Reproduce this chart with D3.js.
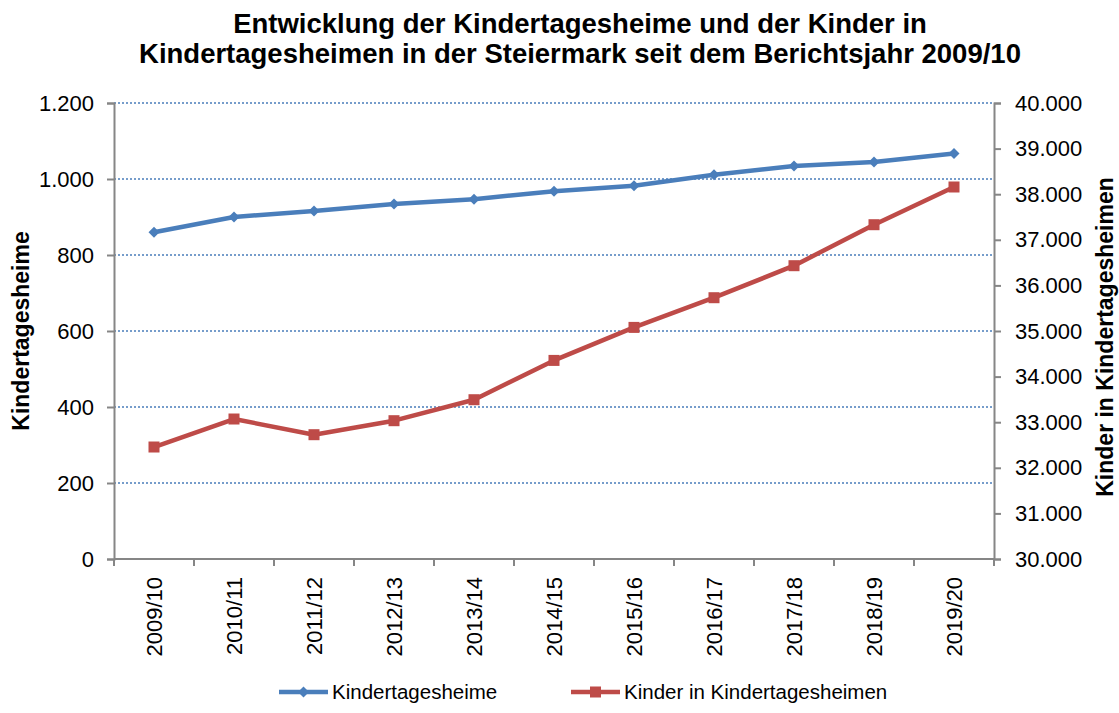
<!DOCTYPE html>
<html><head><meta charset="utf-8">
<script src="https://cdn.jsdelivr.net/npm/d3@7"></script>
<style>body{margin:0;background:#fff}svg{display:block;font-family:"Liberation Sans",Arial,sans-serif}</style>
</head><body><svg id="c" width="1119" height="713"></svg>
<script>
const categories = ["2009/10","2010/11","2011/12","2012/13","2013/14","2014/15","2015/16","2016/17","2017/18","2018/19","2019/20"];
const heime = [860, 900, 916, 934, 947, 968, 982, 1011, 1034, 1045, 1067];
const kinder = [32456, 33070, 32726, 33033, 33493, 34355, 35079, 35730, 36432, 37331, 38158];
const leftTicks = [0, 200, 400, 600, 800, 1000, 1200];
const rightTicks = [30000, 31000, 32000, 33000, 34000, 35000, 36000, 37000, 38000, 39000, 40000];
const seriesNames = ["Kindertagesheime", "Kinder in Kindertagesheimen"];

const svg = d3.select("#c");
const L = 114, R = 994, T = 103, B = 559;
const blue = "#4a7ebb", red = "#be4b48", axisCol = "#868686";
const de = v => d3.format(",")(v).replace(/,/g, ".");

const x = d3.scaleBand().domain(categories).range([L, R]).padding(0);
const yL = d3.scaleLinear().domain([0, 1200]).range([B, T]);
const yR = d3.scaleLinear().domain([30000, 40000]).range([B, T]);

// title
const title = svg.append("text").attr("text-anchor", "middle").attr("font-weight", "bold").attr("font-size", 27.5).attr("fill", "#000");
title.append("tspan").attr("x", 580).attr("y", 33).text("Entwicklung der Kindertagesheime und der Kinder in");
title.append("tspan").attr("x", 580).attr("y", 63).text("Kindertagesheimen in der Steiermark seit dem Berichtsjahr 2009/10");

// gridlines
svg.append("g").selectAll("line").data(leftTicks.filter(d => d > 0)).join("line")
  .attr("x1", L).attr("x2", R).attr("y1", d => yL(d)).attr("y2", d => yL(d))
  .attr("stroke", blue).attr("stroke-width", 1.5).attr("stroke-dasharray", "2,2");

// axes
const gL = svg.append("g").attr("transform", `translate(${L},0)`)
  .call(d3.axisLeft(yL).tickValues(leftTicks).tickFormat(de).tickSizeOuter(0).tickSize(7).tickPadding(13));
const gR = svg.append("g").attr("transform", `translate(${R},0)`)
  .call(d3.axisRight(yR).tickValues(rightTicks).tickFormat(de).tickSizeOuter(0).tickSize(7).tickPadding(14));
const gX = svg.append("g").attr("transform", `translate(0,${B})`)
  .call(d3.axisBottom(x).tickSize(0).tickSizeOuter(0));
[gL, gR, gX].forEach(g => {
  g.select(".domain").attr("stroke", axisCol).attr("stroke-width", 2);
  g.selectAll(".tick line").attr("stroke", axisCol).attr("stroke-width", 2);
  g.selectAll("text").attr("font-size", 22).attr("fill", "#000").attr("font-family", "Liberation Sans, Arial, sans-serif");
});
gX.select(".domain").attr("d", `M${L},0H${R}`);
// category boundary ticks
gX.append("g").selectAll("line").data(categories.concat(["__end"])).join("line")
  .attr("x1", (d, i) => i < categories.length ? x(d) : R)
  .attr("x2", (d, i) => i < categories.length ? x(d) : R)
  .attr("y1", 0).attr("y2", 7).attr("stroke", axisCol).attr("stroke-width", 2);
gX.selectAll(".tick text").attr("transform", "rotate(-90)").attr("text-anchor", "end")
  .attr("x", -18).attr("y", 0).attr("dy", "0.35em");

// axis titles
svg.append("text").attr("transform", `translate(29,${331}) rotate(-90)`).attr("text-anchor", "middle")
  .attr("font-weight", "bold").attr("font-size", 23).text("Kindertagesheime");
svg.append("text").attr("transform", `translate(1113,${337}) rotate(-90)`).attr("text-anchor", "middle")
  .attr("font-weight", "bold").attr("font-size", 23).text("Kinder in Kindertagesheimen");

const cx = d => x(d) + x.bandwidth() / 2;
const diamondPath = "M0,-5.5L5.5,0L0,5.5L-5.5,0Z";

// red series
svg.append("path").datum(kinder).attr("fill", "none").attr("stroke", red).attr("stroke-width", 4.5)
  .attr("stroke-linejoin", "round")
  .attr("d", d3.line().x((d, i) => cx(categories[i])).y(d => yR(d)));
svg.append("g").selectAll("rect").data(kinder).join("rect")
  .attr("x", (d, i) => cx(categories[i]) - 5.5).attr("y", d => yR(d) - 5.5).attr("width", 11).attr("height", 11).attr("fill", red);

// blue series
svg.append("path").datum(heime).attr("fill", "none").attr("stroke", blue).attr("stroke-width", 4.5)
  .attr("stroke-linejoin", "round")
  .attr("d", d3.line().x((d, i) => cx(categories[i])).y(d => yL(d)));
svg.append("g").selectAll("path").data(heime).join("path")
  .attr("transform", (d, i) => `translate(${cx(categories[i])},${yL(d)})`).attr("d", diamondPath).attr("fill", blue);

// legend
const lg = svg.append("g");
const items = [{n: seriesNames[0], c: blue, x0: 279, sym: "d"}, {n: seriesNames[1], c: red, x0: 571, sym: "s"}];
items.forEach(it => {
  const ly = 692;
  lg.append("line").attr("x1", it.x0).attr("x2", it.x0 + 49).attr("y1", ly).attr("y2", ly).attr("stroke", it.c).attr("stroke-width", 4.5);
  if (it.sym === "d") lg.append("path").attr("transform", `translate(${it.x0 + 24.5},${ly})`).attr("d", diamondPath).attr("fill", it.c);
  else lg.append("rect").attr("x", it.x0 + 19).attr("y", ly - 5.5).attr("width", 11).attr("height", 11).attr("fill", it.c);
  lg.append("text").attr("x", it.x0 + 53).attr("y", ly).attr("dy", "0.35em").attr("font-size", 20.5).text(it.n);
});
</script></body></html>
